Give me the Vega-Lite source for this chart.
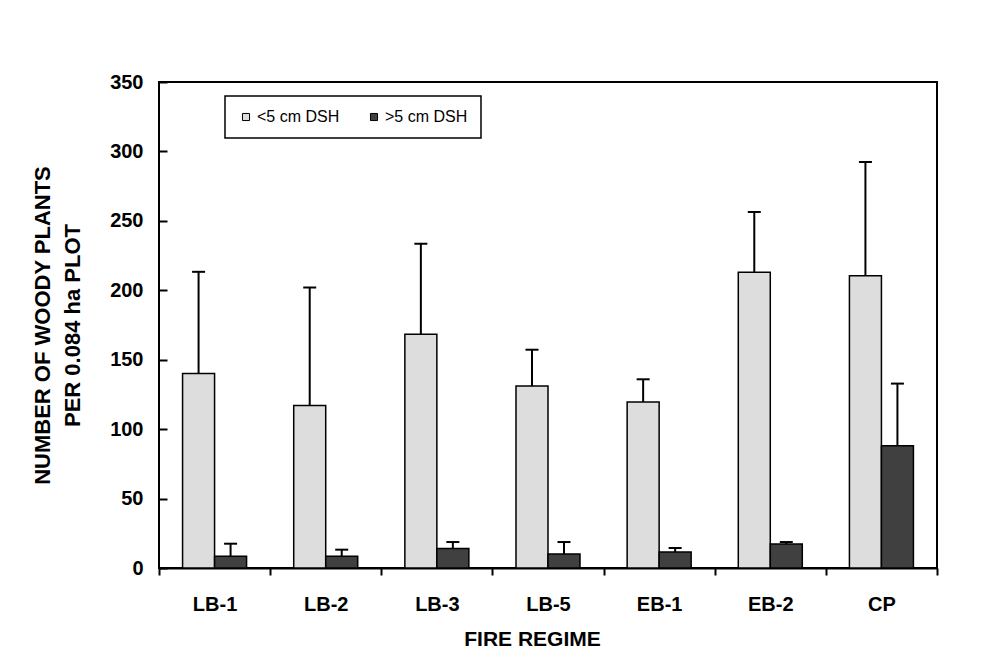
{
  "$schema": "https://vega.github.io/schema/vega-lite/v6.json",
  "width": 778,
  "height": 486,
  "autosize": {"type": "none"},
  "padding": {"left": 159, "top": 82, "right": 64, "bottom": 99},
  "background": "white",
  "config": {
    "font": "Liberation Sans",
    "view": {"stroke": "black", "strokeWidth": 2}
  },
  "data": {
    "values": [
      {"regime": "LB-1", "size": "<5 cm DSH", "value": 140, "upper": 213.3},
      {"regime": "LB-2", "size": "<5 cm DSH", "value": 117, "upper": 202},
      {"regime": "LB-3", "size": "<5 cm DSH", "value": 168.4, "upper": 233.6},
      {"regime": "LB-5", "size": "<5 cm DSH", "value": 131, "upper": 157.2},
      {"regime": "EB-1", "size": "<5 cm DSH", "value": 119.6, "upper": 135.9},
      {"regime": "EB-2", "size": "<5 cm DSH", "value": 213, "upper": 256.4},
      {"regime": "CP", "size": "<5 cm DSH", "value": 210.4, "upper": 292.4},
      {"regime": "LB-1", "size": ">5 cm DSH", "value": 8.4, "upper": 17.5},
      {"regime": "LB-2", "size": ">5 cm DSH", "value": 8.4, "upper": 13.2},
      {"regime": "LB-3", "size": ">5 cm DSH", "value": 14.1, "upper": 18.7},
      {"regime": "LB-5", "size": ">5 cm DSH", "value": 10, "upper": 18.7},
      {"regime": "EB-1", "size": ">5 cm DSH", "value": 11.5, "upper": 14.4},
      {"regime": "EB-2", "size": ">5 cm DSH", "value": 17.3, "upper": 18.7},
      {"regime": "CP", "size": ">5 cm DSH", "value": 88, "upper": 132.8}
    ]
  },
  "encoding": {
    "x": {
      "field": "regime",
      "type": "nominal",
      "sort": ["LB-1", "LB-2", "LB-3", "LB-5", "EB-1", "EB-2", "CP"],
      "scale": {"paddingInner": 0, "paddingOuter": 0},
      "axis": {
        "title": "FIRE REGIME",
        "tickBand": "extent",
        "tickSize": 7,
        "tickWidth": 2,
        "tickColor": "black",
        "domainColor": "black",
        "domainWidth": 2,
        "labelAngle": 0,
        "labelPadding": 19,
        "labelFontSize": 20,
        "labelFontWeight": "bold",
        "labelColor": "black",
        "titleFontSize": 21,
        "titleFontWeight": "bold",
        "titleColor": "black",
        "titlePadding": 14,
        "titleX": 373
      }
    },
    "xOffset": {
      "field": "size",
      "type": "nominal",
      "sort": ["<5 cm DSH", ">5 cm DSH"],
      "scale": {"paddingInner": 0, "paddingOuter": 0.7366}
    }
  },
  "layer": [
    {
      "mark": {"type": "bar", "stroke": "black", "strokeWidth": 1.5},
      "encoding": {
        "y": {
          "field": "value",
          "type": "quantitative",
          "scale": {"domain": [0, 350], "nice": false},
          "axis": {
            "title": ["NUMBER OF WOODY PLANTS", "PER 0.084 ha PLOT"],
            "values": [0, 50, 100, 150, 200, 250, 300, 350],
            "grid": false,
            "zindex": 2,
            "offset": -8,
            "domain": false,
            "tickSize": 8,
            "tickWidth": 2,
            "tickColor": "black",
            "labelPadding": 16,
            "labelFontSize": 20,
            "labelFontWeight": "bold",
            "labelColor": "black",
            "titleFontSize": 22,
            "titleFontWeight": "bold",
            "titleColor": "black",
            "titleLineHeight": 30,
            "titlePadding": 25
          }
        },
        "color": {
          "field": "size",
          "type": "nominal",
          "scale": {"domain": ["<5 cm DSH", ">5 cm DSH"], "range": ["#dddddd", "#404040"]},
          "legend": {
            "orient": "none",
            "legendX": 66,
            "legendY": 14,
            "direction": "horizontal",
            "title": null,
            "strokeColor": "black",
            "padding": 13,
            "symbolType": "square",
            "symbolSize": 50,
            "symbolStrokeColor": "black",
            "symbolStrokeWidth": 1,
            "symbolOpacity": 1,
            "labelFontSize": 16,
            "labelColor": "black",
            "labelOffset": 3,
            "columnPadding": 26,
            "encode": {"legend": {"update": {"strokeWidth": {"value": 1.5}}}}
          }
        }
      }
    },
    {
      "mark": {"type": "rule", "strokeWidth": 2, "color": "black"},
      "encoding": {
        "y": {"field": "value", "type": "quantitative"},
        "y2": {"field": "upper"}
      }
    },
    {
      "mark": {"type": "tick", "orient": "horizontal", "size": 13, "thickness": 2, "color": "black", "opacity": 1},
      "encoding": {
        "y": {"field": "upper", "type": "quantitative"}
      }
    }
  ]
}
